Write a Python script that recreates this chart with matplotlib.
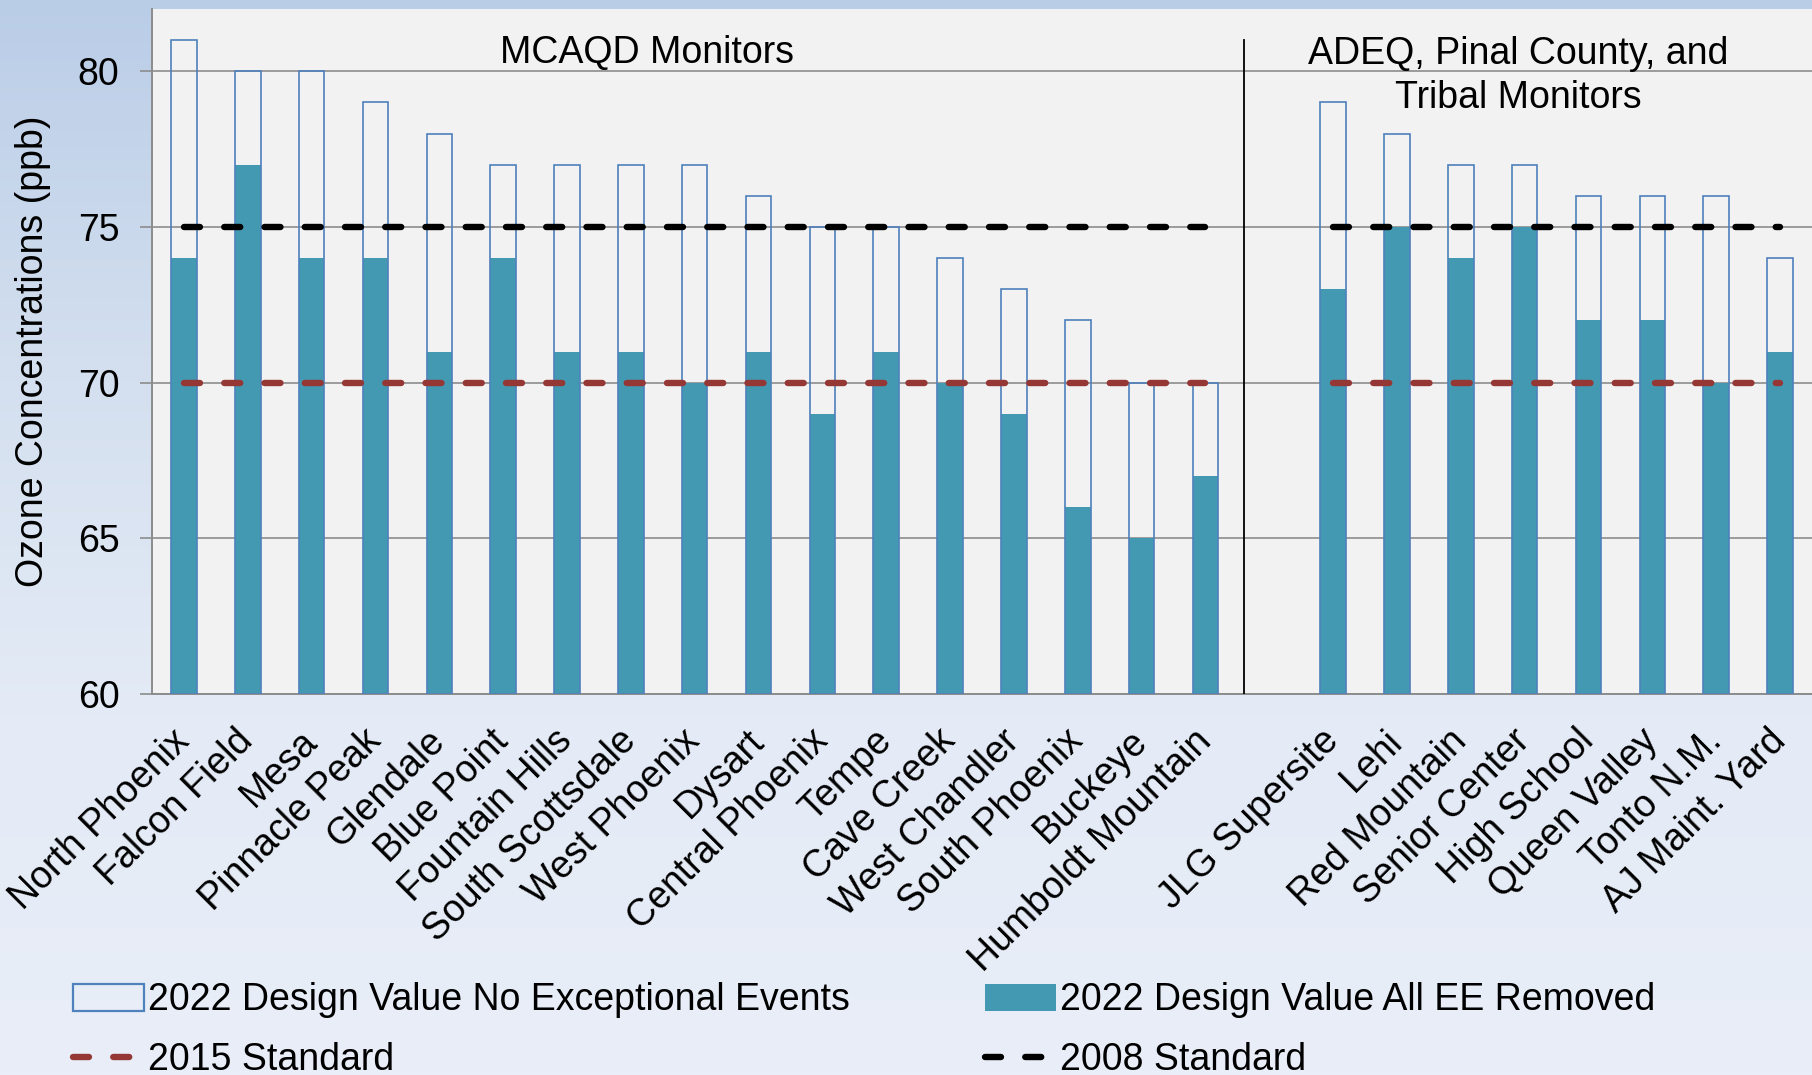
import numpy as np
import matplotlib
matplotlib.use("Agg")
import matplotlib.pyplot as plt
from matplotlib.patches import Patch
from matplotlib.lines import Line2D
from matplotlib.colors import LinearSegmentedColormap

plt.rcParams['font.family'] = ['Liberation Sans', 'DejaVu Sans']

# monitors (MCAQD group, then ADEQ / Pinal County / Tribal group)
mcaqd_sites = ['North Phoenix', 'Falcon Field', 'Mesa', 'Pinnacle Peak', 'Glendale',
               'Blue Point', 'Fountain Hills', 'South Scottsdale', 'West Phoenix',
               'Dysart', 'Central Phoenix', 'Tempe', 'Cave Creek', 'West Chandler',
               'South Phoenix', 'Buckeye', 'Humboldt Mountain']
other_sites = ['JLG Supersite', 'Lehi', 'Red Mountain', 'Senior Center',
               'High School', 'Queen Valley', 'Tonto N.M.', 'AJ Maint. Yard']

# 2022 design values (ppb)
mcaqd_no_ee = [81, 80, 80, 79, 78, 77, 77, 77, 77, 76, 75, 75, 74, 73, 72, 70, 70]
mcaqd_ee_removed = [74, 77, 74, 74, 71, 74, 71, 71, 70, 71, 69, 71, 70, 69, 66, 65, 67]
other_no_ee = [79, 78, 77, 77, 76, 76, 76, 74]
other_ee_removed = [73, 75, 74, 75, 72, 72, 70, 71]

std_2015 = 70
std_2008 = 75

# one empty slot between the two groups
labels = mcaqd_sites + [''] + other_sites
no_ee = np.array(mcaqd_no_ee + [np.nan] + other_no_ee, dtype=float)
ee_removed = np.array(mcaqd_ee_removed + [np.nan] + other_ee_removed, dtype=float)
x = np.arange(len(labels))
gap = np.where(np.isnan(no_ee), np.nan, 1.0)

fill_col = '#4399B1'
edge_col = '#4F81BD'
grid_col = '#8C8C8C'
fs = 27
dash_lw = 4.6
dash_pat = (2.5, 3.8)

fig = plt.figure(figsize=(18.12, 10.75), dpi=100)

# sky-ish backdrop
bg = fig.add_axes([0, 0, 1, 1], zorder=-10)
sky = LinearSegmentedColormap.from_list('sky', ['#BACDE7', '#D3DFEF', '#E4EBF6', '#E9EEF8'])
grad = np.linspace(0, 1, 256).reshape(-1, 1)
bg.imshow(grad, aspect='auto', cmap=sky, extent=[0, 1, 0, 1])
bg.set_axis_off()

ax = fig.add_axes([0.0839, 0.3544, 0.9161, 0.6372])
ax.set_facecolor('#F2F2F2')

ax.bar(x, ee_removed - 60, bottom=60, width=0.4, color=fill_col, zorder=2)
ax.bar(x, no_ee - 60, bottom=60, width=0.4, facecolor='none', edgecolor=edge_col,
       linewidth=1.2, zorder=3)

ax.plot(x, std_2015 * gap, color='#953735', lw=dash_lw, dashes=dash_pat,
        dash_capstyle='round', zorder=4)
ax.plot(x, std_2008 * gap, color='black', lw=dash_lw, dashes=dash_pat,
        dash_capstyle='round', zorder=4)

# group separator and titles
ax.plot([16.6, 16.6], [60, 81.0], color='black', lw=1.3, zorder=4)
ax.text(7.25, 80.6, 'MCAQD Monitors', ha='center', va='center', fontsize=fs)
ax.text(20.9, 79.85, 'ADEQ, Pinal County, and\nTribal Monitors', ha='center',
        va='center', fontsize=fs, linespacing=1.3)

ax.set_xlim(-0.5, 25.5)
ax.set_ylim(60, 82)
ax.set_yticks([60, 65, 70, 75, 80])
ax.yaxis.grid(True, color=grid_col, lw=1.2, zorder=1)
ax.set_axisbelow(True)
ax.tick_params(axis='y', length=8.5, width=1.2, color=grid_col, labelsize=fs, pad=15)
ax.tick_params(axis='x', length=0, labelsize=fs, pad=30)
ax.set_xticks(x)
ax.set_xticklabels(labels, rotation=45, ha='right', va='center', rotation_mode='anchor')

for side in ['top', 'right']:
    ax.spines[side].set_visible(False)
ax.spines['left'].set_color(grid_col)
ax.spines['left'].set_linewidth(1.4)
ax.spines['bottom'].set_color(grid_col)
ax.spines['bottom'].set_linewidth(1.4)

ax.set_ylabel('Ozone Concentrations (ppb)', fontsize=fs)
ax.yaxis.set_label_coords(-0.061, 0.5)

handles = [
    Patch(facecolor='none', edgecolor=edge_col, linewidth=1.6,
          label='2022 Design Value No Exceptional Events'),
    Line2D([], [], color='#953735', lw=dash_lw, dashes=dash_pat, dash_capstyle='round',
           label='2015 Standard'),
    Patch(facecolor=fill_col, label='2022 Design Value All EE Removed'),
    Line2D([], [], color='black', lw=dash_lw, dashes=dash_pat, dash_capstyle='round',
           label='2008 Standard'),
]
fig.legend(handles=handles, loc='upper left', bbox_to_anchor=(0.032, 0.1), ncol=2,
           frameon=False, fontsize=fs, handlelength=1.9, handletextpad=0.1,
           columnspacing=3.6, labelspacing=0.62, borderaxespad=0)

fig.savefig('out.png', dpi=100)
